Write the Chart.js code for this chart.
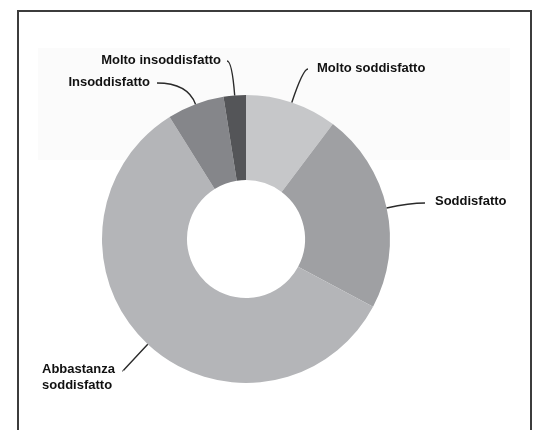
<!DOCTYPE html>
<html>
<head>
<meta charset="utf-8">
<script src="https://cdn.jsdelivr.net/npm/chart.js@4"></script>
<style>
html, body { margin:0; padding:0; background:#fff; }
#wrap { position:relative; width:541px; height:430px; overflow:hidden; }
#frame { position:absolute; left:17px; top:10px; width:515px; height:480px; border:2px solid #3c3c3c; box-sizing:border-box; }
#band { position:absolute; left:38px; top:48px; width:472px; height:112px; background:#fbfbfb; }
#myChart { position:absolute; left:0; top:0; }
</style>
</head>
<body>
<div id="wrap">
	<div id="frame"></div>
	<div id="band"></div>
	<canvas id="myChart" width="541" height="430"></canvas>
</div>
<script>
// categories (clockwise from 12 o'clock) and their share in %
var categories = ['Molto soddisfatto', 'Soddisfatto', ['Abbastanza', 'soddisfatto'], 'Insoddisfatto', 'Molto insoddisfatto'];
var values = [10.3, 22.5, 58.3, 6.4, 2.5];
var sliceColors = ['#c6c7c9', '#9fa0a3', '#b4b5b8', '#85868a', '#545558'];

// where each label's leader line ends, relative to the donut centre
var labelPositions = [
	{ dx: 62,   dy: -170, align: 'left',  gap: 9,  ty: -1 },
	{ dx: 179,  dy: -36,  align: 'left',  gap: 10, ty: -2 },
	{ dx: -123, dy: 132,  align: 'block', gap: 8,  ty: -2 },
	{ dx: -89,  dy: -156, align: 'right', gap: 7,  ty: -1 },
	{ dx: -19,  dy: -178, align: 'right', gap: 6,  ty: -1 }
];

var leaderLabels = {
	id : 'leaderLabels',
	afterDatasetsDraw : function(chart, args, opts){
		var ctx = chart.ctx;
		var arcs = chart.getDatasetMeta(0).data;
		ctx.save();
		ctx.font = 'bold 13px "Liberation Sans", Arial, sans-serif';
		ctx.fillStyle = '#111';
		ctx.strokeStyle = '#2a2a2a';
		ctx.lineWidth = 1.4;
		ctx.textBaseline = 'middle';
		for(var i=0; i<arcs.length; i++){
			var p = arcs[i].getProps(['x', 'y', 'startAngle', 'endAngle', 'outerRadius'], true);
			var mid = (p.startAngle + p.endAngle) / 2;
			var ax = p.x + Math.cos(mid) * p.outerRadius;
			var ay = p.y + Math.sin(mid) * p.outerRadius;
			var pos = opts.positions[i];
			var ex = p.x + pos.dx;
			var ey = p.y + pos.dy;
			// bend point: out along the radius until the label's height
			var t = Math.abs(Math.sin(mid)) > 0.1 ? (ey - ay) / Math.sin(mid) : 20;
			if(t < 0) t = 10;
			var cx = ax + Math.cos(mid) * t;
			var cy = ay + Math.sin(mid) * t;
			ctx.beginPath();
			ctx.moveTo(ax, ay);
			ctx.quadraticCurveTo(cx, cy, ex, ey);
			ctx.stroke();

			var lines = [].concat(chart.data.labels[i]);
			var tx;
			if(pos.align === 'left'){
				ctx.textAlign = 'left';
				tx = ex + pos.gap;
			}else if(pos.align === 'right'){
				ctx.textAlign = 'right';
				tx = ex - pos.gap;
			}else{
				var w = 0;
				for(var k=0; k<lines.length; k++){
					w = Math.max(w, ctx.measureText(lines[k]).width);
				}
				ctx.textAlign = 'left';
				tx = ex - pos.gap - w;
			}
			for(var j=0; j<lines.length; j++){
				ctx.fillText(lines[j], tx, ey + pos.ty + j * 16);
			}
		}
		ctx.restore();
	}
};

function makeChart(){
	var ctx = document.getElementById('myChart').getContext('2d');
	var myChart = new Chart(ctx, {
		type : 'doughnut',
		data : {
			labels : categories,
			datasets : [{
				data : values,
				backgroundColor : sliceColors,
				borderWidth : 0
			}]
		},
		options : {
			responsive : false,
			animation : false,
			cutout : '41%',
			layout : { padding : { left : 102, right : 151, top : 95, bottom : 47 } },
			plugins : {
				legend : { display : false },
				tooltip : { enabled : false },
				leaderLabels : { positions : labelPositions }
			}
		},
		plugins : [leaderLabels]
	});
}
makeChart();
</script>
</body>
</html>
